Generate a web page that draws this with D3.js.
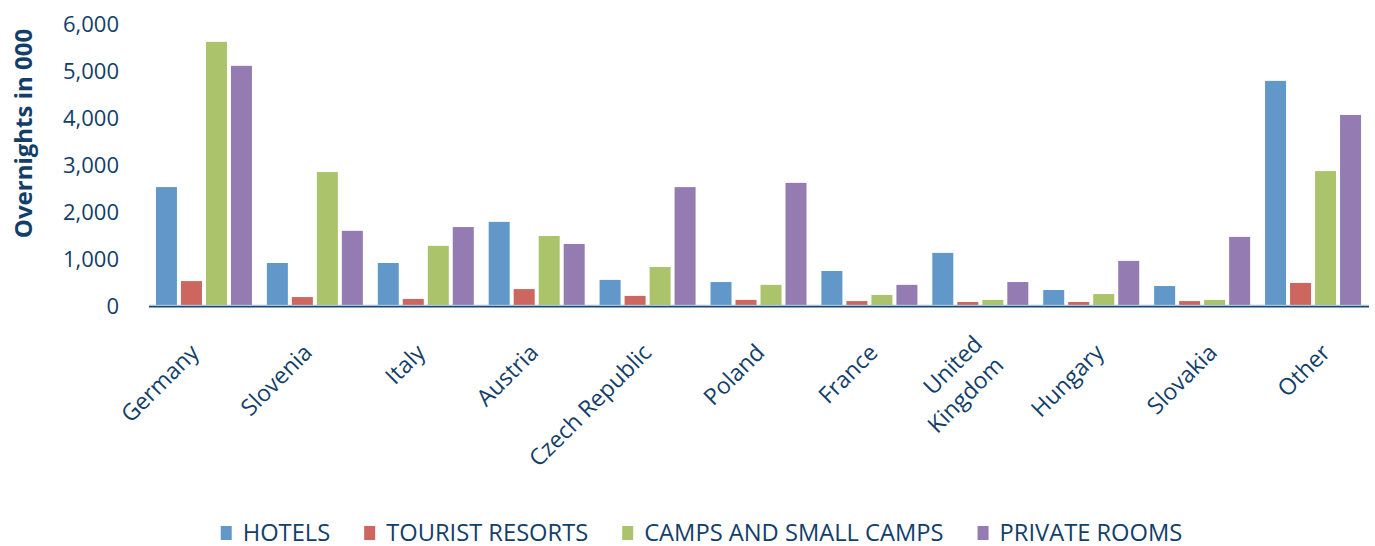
<!DOCTYPE html>
<html>
<head>
<meta charset="utf-8">
<script src="https://cdn.jsdelivr.net/npm/d3@7"></script>
<style>
  html, body { margin: 0; padding: 0; background: #fff; }
  svg { display: block; }
  text { font-family: "Open Sans", sans-serif; fill: #123e69; }
</style>
</head>
<body>
<svg id="chart" width="1375" height="546"></svg>
<script>
const categories = ["Germany", "Slovenia", "Italy", "Austria", "Czech Republic", "Poland", "France", "United Kingdom", "Hungary", "Slovakia", "Other"];
const seriesNames = ["HOTELS", "TOURIST RESORTS", "CAMPS AND SMALL CAMPS", "PRIVATE ROOMS"];
const seriesColors = ["#6198c9", "#cd665f", "#abc46c", "#947cb2"];
const hotels   = [2530, 915, 915, 1790, 555, 510, 745, 1130, 340, 425, 4790];
const resorts  = [530, 190, 150, 360, 215, 130, 105, 85, 85, 105, 490];
const camps    = [5620, 2850, 1280, 1490, 830, 450, 235, 130, 255, 130, 2870];
const privateR = [5110, 1600, 1680, 1320, 2530, 2620, 450, 510, 960, 1470, 4065];
const yTicks = [0, 1000, 2000, 3000, 4000, 5000, 6000];
const yTitle = "Overnights in 000";

const seriesValues = [hotels, resorts, camps, privateR];
const data = categories.map((c, i) => ({ cat: c, vals: seriesValues.map(s => s[i]) }));

const svg = d3.select("#chart");
const plotLeft = 149, plotRight = 1369, plotTop = 24, plotBottom = 306;

const x0 = d3.scaleBand().domain(categories).range([plotLeft, plotRight]).paddingInner(0).paddingOuter(0);
const groupW = 96;
const x1 = d3.scaleBand().domain(d3.range(4)).range([0, groupW]).paddingInner(0.16).paddingOuter(0);
const y = d3.scaleLinear().domain([0, 6000]).range([plotBottom, plotTop]);

// bars
const groups = svg.append("g").selectAll("g").data(data).join("g")
  .attr("transform", d => `translate(${x0(d.cat) + (x0.bandwidth() - groupW) / 2 - 0.5},0)`);
groups.selectAll("rect").data(d => d.vals.map((v, k) => ({ v, k }))).join("rect")
  .attr("x", d => x1(d.k))
  .attr("width", x1.bandwidth())
  .attr("y", d => y(d.v))
  .attr("height", d => y(0) - y(d.v))
  .attr("fill", d => seriesColors[d.k]);

// y axis (labels only)
const yAxis = d3.axisLeft(y).tickValues(yTicks).tickFormat(d3.format(",")).tickSize(0).tickPadding(0);
const yg = svg.append("g").attr("transform", `translate(119,0)`).call(yAxis);
yg.select(".domain").remove();
yg.selectAll("text").attr("font-family", "Open Sans, sans-serif").attr("font-size", 22).attr("fill", "#123e69").attr("dy", "0.36em");

// x axis baseline
svg.append("line").attr("x1", plotLeft).attr("x2", plotRight).attr("y1", y(0) - 0.5).attr("y2", y(0) - 0.5)
  .attr("stroke", "#a9c0d4").attr("stroke-width", 1.5);
svg.append("line").attr("x1", plotLeft).attr("x2", plotRight).attr("y1", y(0) + 0.8).attr("y2", y(0) + 0.8)
  .attr("stroke", "#1a4a75").attr("stroke-width", 1.6);

// x labels: label anchor positions along the axis
const labelX = d3.scalePoint().domain(categories)
  .range([x0(categories[0]) + x0.bandwidth() / 2 - 4, x0(categories[categories.length - 1]) + x0.bandwidth() / 2 + 18]);
const xl = svg.append("g").attr("class", "xlabels");
categories.forEach(d => {
  const t = xl.append("text")
    .attr("font-family", "Open Sans, sans-serif")
    .attr("font-size", 23)
    .attr("fill", "#123e69")
    .attr("text-anchor", "end")
    .attr("transform", `translate(${labelX(d)},${plotBottom + 48}) rotate(-45)`);
  const words = d === "United Kingdom" ? ["United", "Kingdom"] : [d];
  if (words.length === 1) {
    t.text(d);
  } else {
    words.forEach((w, i) => t.append("tspan").attr("x", 0).attr("y", (i - 0.5) * 30 + 3).text(w));
  }
});

// y title
svg.append("text")
  .attr("transform", "translate(32,133.5) rotate(-90)")
  .attr("text-anchor", "middle")
  .attr("font-size", 24)
  .attr("font-weight", "bold")
  .attr("fill", "#123e69")
  .text(yTitle);

// legend
const legend = svg.append("g").attr("transform", "translate(0,541)");
const items = legend.selectAll("g").data(seriesNames).join("g");
items.append("rect").attr("width", 11).attr("height", 14).attr("y", -15).attr("fill", (d, i) => seriesColors[i]);
items.append("text").attr("x", 22).attr("font-size", 23.7).text(d => d);
let cx = 0; const gap = 34; const positions = [];
items.each(function() {
  const w = 22 + d3.select(this).select("text").node().getComputedTextLength();
  positions.push(cx); cx += w + gap;
});
const total = cx - gap;
const start = 701.5 - total / 2;
items.attr("transform", (d, i) => `translate(${start + positions[i]},0)`);
</script>
</body>
</html>
